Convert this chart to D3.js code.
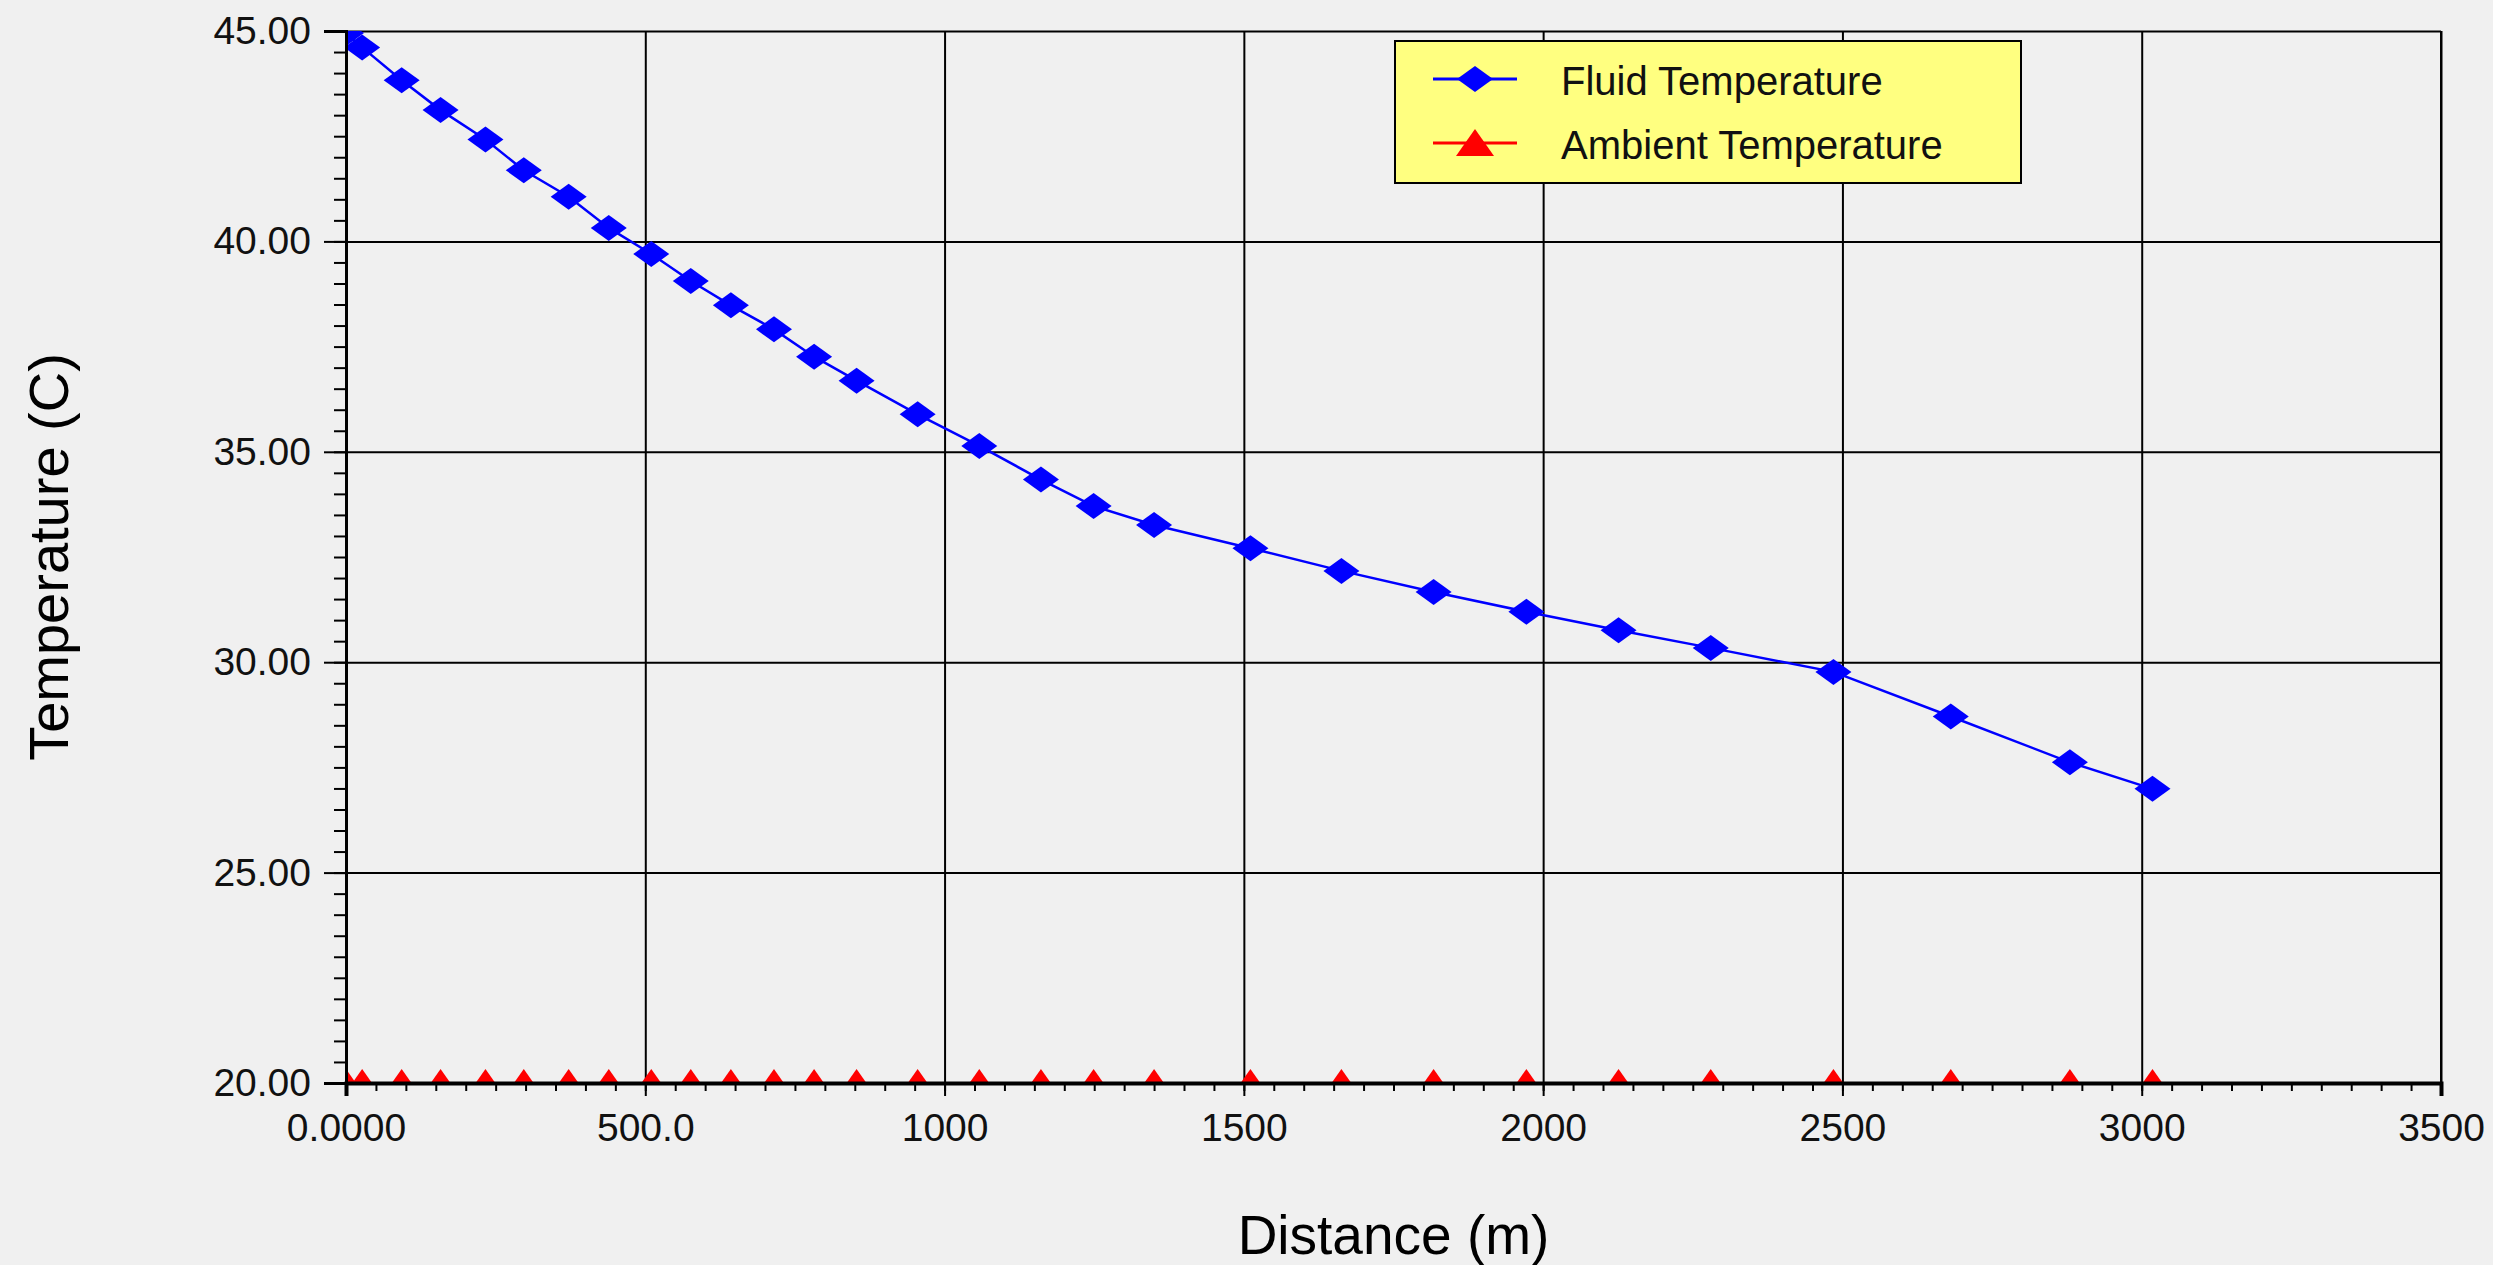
<!DOCTYPE html>
<html>
<head>
<meta charset="utf-8">
<script src="https://cdn.jsdelivr.net/npm/d3@7"></script>
<style>
  body { margin: 0; background: #f0f0f0; }
  svg { display: block; font-family: "Liberation Sans", Arial, sans-serif; }
</style>
</head>
<body>
<div id="chart"></div>
<script>
// distances (m), shared by both series
let distance = [0, 27, 93, 158, 233, 297, 372, 439, 510, 576, 643, 715, 782, 853, 955,
    1058, 1161, 1249, 1350, 1511, 1663, 1817, 1972, 2126, 2280, 2485, 2681, 2880, 3018];

let fluidTemp = [44.95, 44.61, 43.83, 43.12, 42.42, 41.69, 41.06, 40.32, 39.70, 39.06,
    38.48, 37.91, 37.26, 36.69, 35.89, 35.14, 34.34, 33.71, 33.26, 32.71, 32.17, 31.67,
    31.20, 30.76, 30.34, 29.77, 28.71, 27.62, 26.99];

let ambientTemp = [20, 20, 20, 20, 20, 20, 20, 20, 20, 20, 20, 20, 20, 20, 20,
    20, 20, 20, 20, 20, 20, 20, 20, 20, 20, 20, 20, 20, 20];

let seriesNames = ['Fluid Temperature', 'Ambient Temperature'];

let xTicks = [0, 500, 1000, 1500, 2000, 2500, 3000, 3500];
let xTickLabels = ['0.0000', '500.0', '1000', '1500', '2000', '2500', '3000', '3500'];
let yTicks = [20, 25, 30, 35, 40, 45];

let width = 2493;
let height = 1265;

let margin = {
    top: 31,
    bottom: 182,
    left: 346,
    right: 52
};

let svg = d3.select('#chart').append('svg').attr('width', width).attr('height', height);

let x = d3.scaleLinear().domain([0, 3500]).range([margin.left, width - margin.right]);
let y = d3.scaleLinear().domain([20, 45]).range([height - margin.bottom, margin.top]);

let plotW = x.range()[1] - x.range()[0];
let plotH = y.range()[0] - y.range()[1];

svg.append('clipPath').attr('id', 'plotclip')
    .append('rect')
    .attr('x', margin.left).attr('y', margin.top)
    .attr('width', plotW).attr('height', plotH);

// grid
svg.append('g')
    .attr('transform', `translate(0,${y(20)})`)
    .call(d3.axisBottom(x).tickValues(xTicks).tickSize(-plotH).tickFormat(''))
    .call(g => g.select('.domain').remove())
    .call(g => g.selectAll('line').attr('stroke', '#000').attr('stroke-width', 2));

svg.append('g')
    .attr('transform', `translate(${x(0)},0)`)
    .call(d3.axisLeft(y).tickValues(yTicks).tickSize(-plotW).tickFormat(''))
    .call(g => g.select('.domain').remove())
    .call(g => g.selectAll('line').attr('stroke', '#000').attr('stroke-width', 2));

// right border
svg.append('line')
    .attr('x1', x(3500)).attr('x2', x(3500))
    .attr('y1', y(45)).attr('y2', y(20))
    .attr('stroke', '#000').attr('stroke-width', 2);

let diamond = 'M0,-13L18,0L0,13L-18,0Z';
let triangle = 'M0,-14L19,13L-19,13Z';

let plot = svg.append('g').attr('clip-path', 'url(#plotclip)');

let fluid = distance.map((d, i) => ({x: d, y: fluidTemp[i]}));
let ambient = distance.map((d, i) => ({x: d, y: ambientTemp[i]}));

let line = d3.line().x(d => x(d.x)).y(d => y(d.y));

plot.append('path').datum(ambient)
    .attr('d', line).attr('fill', 'none')
    .attr('stroke', '#ff0000').attr('stroke-width', 2);

plot.append('path').datum(fluid)
    .attr('d', line).attr('fill', 'none')
    .attr('stroke', '#0000ff').attr('stroke-width', 2.5);

plot.selectAll('.fm')
    .data(fluid)
    .join('path')
    .attr('class', 'fm')
    .attr('d', diamond)
    .attr('transform', d => `translate(${x(d.x)},${y(d.y)})`)
    .attr('fill', '#0000ff');

// axes
let yAxis = svg.append('g')
    .attr('transform', `translate(${x(0)},0)`)
    .call(d3.axisLeft(y).tickValues(yTicks).tickSize(22).tickPadding(13).tickFormat(d3.format('.2f')));

svg.append('g')
    .attr('transform', `translate(${x(0)},0)`)
    .call(d3.axisLeft(y).tickValues(d3.range(20, 45.01, 0.5)).tickSize(12).tickFormat(''))
    .call(g => g.select('.domain').remove());

let xAxis = svg.append('g')
    .attr('transform', `translate(0,${y(20)})`)
    .call(d3.axisBottom(x).tickValues(xTicks).tickSize(13).tickPadding(17)
        .tickFormat((d, i) => xTickLabels[i]));

svg.append('g')
    .attr('transform', `translate(0,${y(20)})`)
    .call(d3.axisBottom(x).tickValues(d3.range(0, 3500.01, 50)).tickSize(8).tickFormat(''))
    .call(g => g.select('.domain').remove());

[yAxis, xAxis].forEach(a => {
    a.selectAll('text').attr('font-size', 39).attr('fill', '#111')
        .attr('font-family', '"Liberation Sans", Arial, sans-serif');
    a.selectAll('line').attr('stroke', '#000').attr('stroke-width', 2);
});
yAxis.select('.domain').attr('stroke', '#000').attr('stroke-width', 3);
xAxis.select('.domain').attr('stroke', '#000').attr('stroke-width', 4);
svg.selectAll('.tick line').attr('stroke', '#000').attr('stroke-width', 2);

plot.selectAll('.am')
    .data(ambient)
    .join('path')
    .attr('class', 'am')
    .attr('d', triangle)
    .attr('transform', d => `translate(${x(d.x)},${y(d.y)})`)
    .attr('fill', '#ff0000');

// axis titles
svg.append('text')
    .attr('transform', `translate(68,${(y(20) + y(45)) / 2}) rotate(-90)`)
    .attr('text-anchor', 'middle')
    .attr('font-size', 56)
    .text('Temperature (C)');

svg.append('text')
    .attr('x', (x(0) + x(3500)) / 2)
    .attr('y', 1254)
    .attr('text-anchor', 'middle')
    .attr('font-size', 55)
    .text('Distance (m)');

// legend
let legend = svg.append('g').attr('transform', 'translate(1395,41)');
legend.append('rect')
    .attr('width', 626).attr('height', 142)
    .attr('fill', '#ffff80').attr('stroke', '#000').attr('stroke-width', 2);

let legendItems = [
    {name: seriesNames[0], color: '#0000ff', shape: diamond},
    {name: seriesNames[1], color: '#ff0000', shape: triangle}
];

let li = legend.selectAll('g.item')
    .data(legendItems)
    .join('g')
    .attr('class', 'item')
    .attr('transform', (d, i) => `translate(0,${38 + i * 64})`);

li.append('line')
    .attr('x1', 38).attr('x2', 122)
    .attr('stroke', d => d.color).attr('stroke-width', 3);
li.append('path')
    .attr('d', d => d.shape)
    .attr('transform', 'translate(80,0)')
    .attr('fill', d => d.color);
li.append('text')
    .attr('x', 166).attr('y', 16)
    .attr('font-size', 40)
    .attr('fill', '#111')
    .text(d => d.name);
</script>
</body>
</html>
